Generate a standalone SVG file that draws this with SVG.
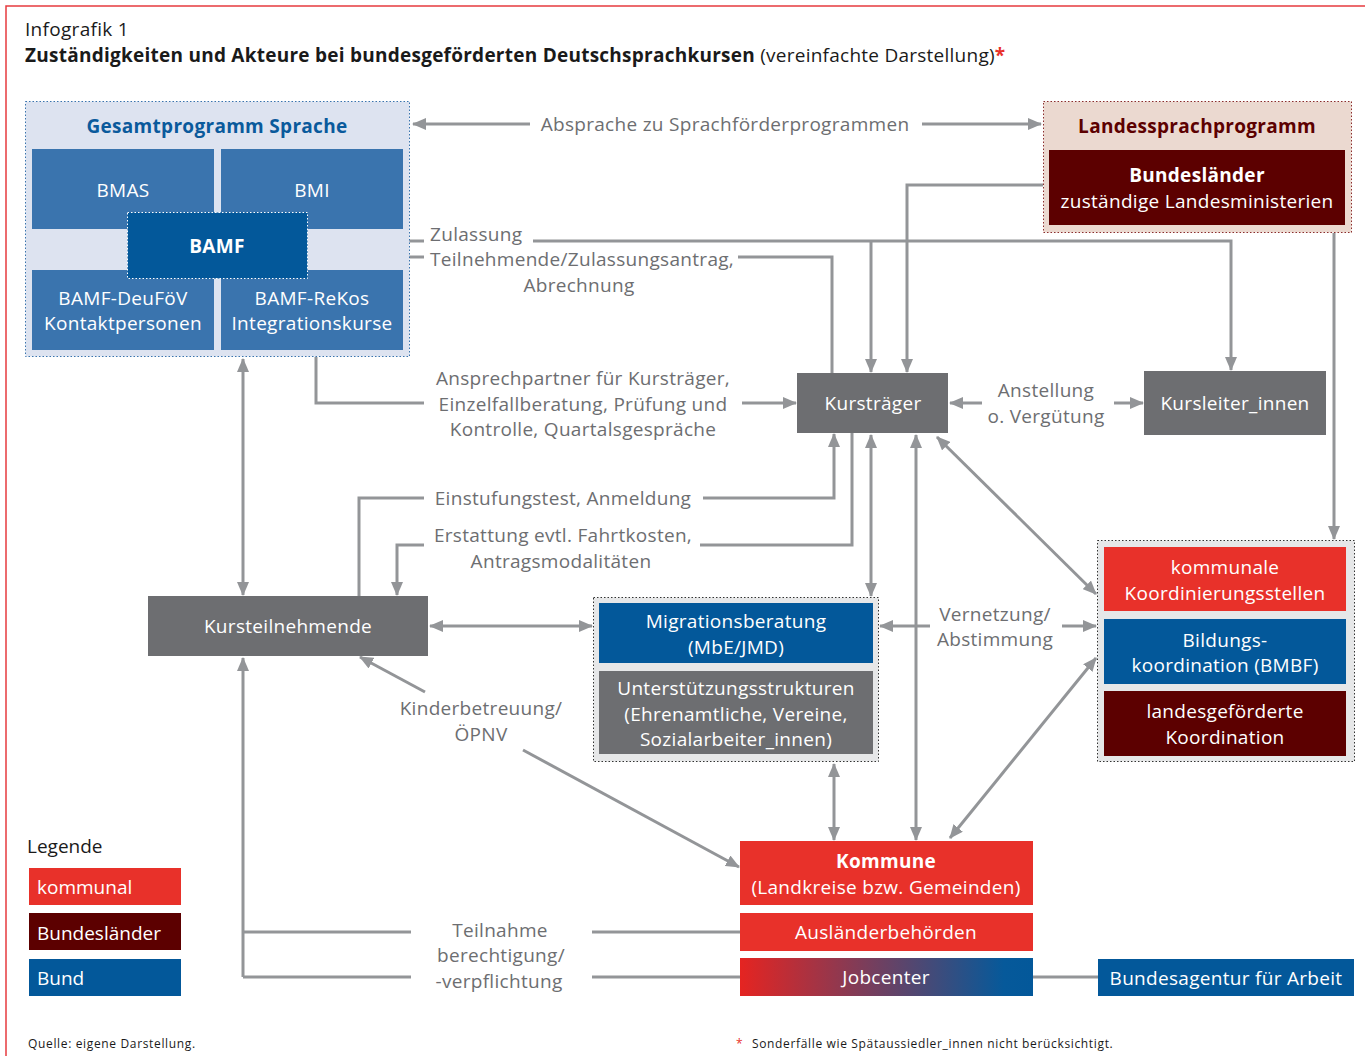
<svg xmlns="http://www.w3.org/2000/svg" width="1365" height="1056" viewBox="0 0 1365 1056">
<defs>
<marker id="ah" viewBox="0 0 14 12" refX="13" refY="6" markerWidth="14" markerHeight="12" markerUnits="userSpaceOnUse" orient="auto-start-reverse">
<path d="M0,0 L14,6 L0,12 z" fill="#939598"/>
</marker>
<linearGradient id="jc" x1="0" y1="0" x2="1" y2="0">
<stop offset="0" stop-color="#e52421"/>
<stop offset="0.9" stop-color="#06599a"/>
<stop offset="1" stop-color="#03589a"/>
</linearGradient>
<style>
text{font-family:"Open Sans","Liberation Sans",sans-serif;}
.w{fill:#ffffff;font-size:19px;text-anchor:middle;letter-spacing:0.3px;}
.wb{fill:#ffffff;font-size:19px;text-anchor:middle;font-weight:bold;letter-spacing:0.3px;}
.lbl{fill:#6d6e71;font-size:19px;text-anchor:middle;letter-spacing:0.3px;}
.c{fill:none;stroke:#939598;stroke-width:3;}
.a{marker-end:url(#ah);}
.b{marker-start:url(#ah);marker-end:url(#ah);}
.grey{fill:#6d6e71;}
.blue{fill:#03589a;}
.mblue{fill:#3a74ae;}
.red{fill:#e8312a;}
.dred{fill:#5c0000;}
.leg{font-size:19px;fill:#ffffff;}
.foot{font-size:12px;fill:#1a1a1a;letter-spacing:0.65px;}
</style>
</defs>
<rect width="1365" height="1056" fill="#ffffff"/>
<path d="M6,1056 L6,6 L1365,6" fill="none" stroke="#e63b3f" stroke-width="1.5"/>
<text x="25" y="36" font-size="19" fill="#1a1a1a" letter-spacing="0.3">Infografik 1</text>
<text x="25" y="62" font-size="19" fill="#1a1a1a" letter-spacing="0.25"><tspan font-weight="bold">Zuständigkeiten und Akteure bei bundesgeförderten Deutschsprachkursen</tspan> (vereinfachte Darstellung)<tspan fill="#e8312a" font-weight="bold">*</tspan></text>

<g id="connectors">
<path class="c a" d="M530,124 L413,124"/>
<path class="c a" d="M922,124 L1041,124"/>
<path class="c" d="M308,241 L424,241"/>
<path class="c a" d="M533,241 L1231,241 L1231,370"/>
<path class="c a" d="M871,241 L871,372"/>
<path class="c a" d="M424,257 L309,257"/>
<path class="c" d="M738,257 L832,257 L832,373"/>
<path class="c a" d="M1043,185 L907,185 L907,372"/>
<path class="c a" d="M1334,233 L1334,539"/>
<path class="c" d="M316,357 L316,403 L424,403"/>
<path class="c a" d="M742,403 L796,403"/>
<path class="c b" d="M243,359 L243,595"/>
<path class="c a" d="M982,403 L950,403"/>
<path class="c a" d="M1114,403 L1143,403"/>
<path class="c" d="M359,596 L359,498 L424,498"/>
<path class="c a" d="M703,498 L834,498 L834,434"/>
<path class="c" d="M852,433 L852,545 L700,545"/>
<path class="c a" d="M424,545 L397,545 L397,595"/>
<path class="c b" d="M871,435 L871,596"/>
<path class="c b" d="M916,435 L916,840"/>
<path class="c b" d="M937,437 L1096,594"/>
<path class="c b" d="M430,626 L592,626"/>
<path class="c a" d="M930,626 L880,626"/>
<path class="c a" d="M1062,626 L1096,626"/>
<path class="c b" d="M950,838 L1096,658"/>
<path class="c b" d="M834,764 L834,840"/>
<path class="c a" d="M523,750 L739,867"/>
<path class="c a" d="M425,692 L360,657"/>
<path class="c a" d="M243,977 L243,658"/>
<path class="c" d="M243,932 L411,932"/>
<path class="c" d="M243,977 L411,977"/>
<path class="c" d="M592,932 L740,932"/>
<path class="c" d="M592,977 L740,977"/>
<path class="c" d="M1033,977 L1098,977"/>
</g>

<g id="labels">
<text class="lbl" x="725" y="131">Absprache zu Sprachförderprogrammen</text>
<text class="lbl" x="430" y="241" style="text-anchor:start">Zulassung</text>
<text class="lbl" x="430" y="266" style="text-anchor:start">Teilnehmende/Zulassungsantrag,</text>
<text class="lbl" x="579" y="292">Abrechnung</text>
<text class="lbl" x="583" y="385">Ansprechpartner für Kursträger,</text>
<text class="lbl" x="583" y="411">Einzelfallberatung, Prüfung und</text>
<text class="lbl" x="583" y="436">Kontrolle, Quartalsgespräche</text>
<text class="lbl" x="1046" y="397">Anstellung</text>
<text class="lbl" x="1046" y="423">o. Vergütung</text>
<text class="lbl" x="563" y="505">Einstufungstest, Anmeldung</text>
<text class="lbl" x="563" y="542">Erstattung evtl. Fahrtkosten,</text>
<text class="lbl" x="561" y="568">Antragsmodalitäten</text>
<text class="lbl" x="995" y="621">Vernetzung/</text>
<text class="lbl" x="995" y="646">Abstimmung</text>
<text class="lbl" x="481" y="715">Kinderbetreuung/</text>
<text class="lbl" x="481" y="741">ÖPNV</text>
<text class="lbl" x="500" y="937">Teilnahme</text>
<text class="lbl" x="501" y="962">berechtigung/</text>
<text class="lbl" x="499" y="988">-verpflichtung</text>
</g>

<g id="gesamtprogramm">
<rect x="25.5" y="101.5" width="384" height="255" fill="#dde3f0" stroke="#3a74ae" stroke-width="1" stroke-dasharray="1.5,2"/>
<text x="217" y="133" font-size="19" font-weight="bold" fill="#0a5a9c" text-anchor="middle" letter-spacing="0.3">Gesamtprogramm Sprache</text>
</g>
<g id="bmas"><rect class="mblue" x="32" y="149" width="182" height="80"/><text class="w" x="123" y="197">BMAS</text></g>
<g id="bmi"><rect class="mblue" x="221" y="149" width="182" height="80"/><text class="w" x="312" y="197">BMI</text></g>
<g id="deufoev"><rect class="mblue" x="32" y="270" width="182" height="80"/><text class="w" x="123" y="305">BAMF-DeuFöV</text><text class="w" x="123" y="330">Kontaktpersonen</text></g>
<g id="rekos"><rect class="mblue" x="221" y="270" width="182" height="80"/><text class="w" x="312" y="305">BAMF-ReKos</text><text class="w" x="312" y="330">Integrationskurse</text></g>
<g id="bamf"><rect class="blue" x="127.5" y="212.5" width="180" height="66" stroke="#ffffff" stroke-width="1" stroke-dasharray="1.5,2"/><text class="wb" x="217" y="253">BAMF</text></g>

<g id="landessprachprogramm">
<rect x="1043.5" y="101.5" width="308" height="131" fill="#ebd9d0" stroke="#8b2d2d" stroke-width="1" stroke-dasharray="1.5,2"/>
<text x="1197" y="133" font-size="19" font-weight="bold" fill="#5c0000" text-anchor="middle" letter-spacing="0.3">Landessprachprogramm</text>
<rect class="dred" x="1049" y="150" width="296" height="75"/>
<text class="wb" x="1197" y="182">Bundesländer</text>
<text class="w" x="1197" y="208">zuständige Landesministerien</text>
</g>

<g id="kurstraeger"><rect class="grey" x="797" y="373" width="151" height="60"/><text class="w" x="873" y="410">Kursträger</text></g>
<g id="kursleiter"><rect class="grey" x="1144" y="371" width="182" height="64"/><text class="w" x="1235" y="410">Kursleiter_innen</text></g>
<g id="kursteilnehmende"><rect class="grey" x="148" y="596" width="280" height="60"/><text class="w" x="288" y="633">Kursteilnehmende</text></g>

<g id="beratung">
<rect x="593.5" y="597.5" width="285" height="164" fill="#e6e7e8" stroke="#333333" stroke-width="1" stroke-dasharray="1.5,2"/>
<rect class="blue" x="599" y="603" width="274" height="60"/>
<text class="w" x="736" y="628">Migrationsberatung</text>
<text class="w" x="736" y="654">(MbE/JMD)</text>
<rect class="grey" x="599" y="671" width="274" height="83"/>
<text class="w" x="736" y="695">Unterstützungsstrukturen</text>
<text class="w" x="736" y="721">(Ehrenamtliche, Vereine,</text>
<text class="w" x="736" y="746">Sozialarbeiter_innen)</text>
</g>

<g id="koordination">
<rect x="1097.5" y="540.5" width="257" height="221" fill="#e6e7e8" stroke="#333333" stroke-width="1" stroke-dasharray="1.5,2"/>
<rect class="red" x="1104" y="547" width="242" height="64"/>
<text class="w" x="1225" y="574">kommunale</text>
<text class="w" x="1225" y="600">Koordinierungsstellen</text>
<rect class="blue" x="1104" y="619" width="242" height="65"/>
<text class="w" x="1225" y="647">Bildungs-</text>
<text class="w" x="1225" y="672">koordination (BMBF)</text>
<rect class="dred" x="1104" y="691" width="242" height="65"/>
<text class="w" x="1225" y="718">landesgeförderte</text>
<text class="w" x="1225" y="744">Koordination</text>
</g>

<g id="kommune"><rect class="red" x="740" y="841" width="293" height="64"/><text class="wb" x="886" y="868">Kommune</text><text class="w" x="886" y="894">(Landkreise bzw. Gemeinden)</text></g>
<g id="auslaenderbehoerden"><rect class="red" x="740" y="913" width="293" height="38"/><text class="w" x="886" y="939">Ausländerbehörden</text></g>
<g id="jobcenter"><rect x="740" y="958" width="293" height="38" fill="url(#jc)"/><text class="w" x="886" y="984">Jobcenter</text></g>
<g id="bundesagentur"><rect class="blue" x="1098" y="959" width="256" height="37"/><text class="w" x="1226" y="985">Bundesagentur für Arbeit</text></g>

<g id="legende">
<text x="27" y="853" font-size="19" fill="#1a1a1a">Legende</text>
<rect class="red" x="29" y="868" width="152" height="37"/>
<text class="leg" x="37" y="894">kommunal</text>
<rect class="dred" x="29" y="913" width="152" height="37"/>
<text class="leg" x="37" y="940">Bundesländer</text>
<rect class="blue" x="29" y="959" width="152" height="37"/>
<text class="leg" x="37" y="985">Bund</text>
</g>

<text class="foot" x="28" y="1048">Quelle: eigene Darstellung.</text>
<text x="736" y="1048" font-size="12" fill="#e8312a">*</text>
<text class="foot" x="752" y="1048">Sonderfälle wie Spätaussiedler_innen nicht berücksichtigt.</text>
</svg>
